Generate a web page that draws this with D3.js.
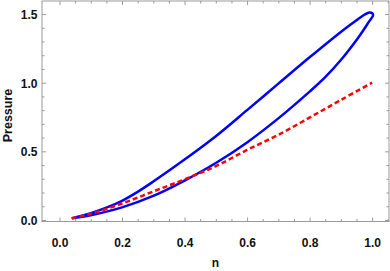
<!DOCTYPE html>
<html>
<head>
<meta charset="utf-8">
<script src="https://cdn.jsdelivr.net/npm/d3@7"></script>
<style>
  html, body { margin: 0; padding: 0; background: #fff; }
  svg { display: block; }
  text { font-family: "Liberation Sans", Arial, sans-serif; font-weight: bold; }
</style>
</head>
<body>
<div id="chart"></div>
<script>
// Blue loop: upper branch out to the tip, lower branch back to the start
const upperN = [0.039, 0.1, 0.15, 0.2, 0.25, 0.3, 0.4, 0.5, 0.6, 0.7, 0.8, 0.9, 0.95, 0.975, 0.992];
const upperP = [0.012, 0.05, 0.09, 0.14, 0.205, 0.28, 0.44, 0.61, 0.8, 0.993, 1.185, 1.37, 1.455, 1.495, 1.512];
const lowerN = [1.001, 1.003, 0.99, 0.97, 0.94, 0.9, 0.85, 0.8, 0.7, 0.6, 0.5, 0.4, 0.3, 0.2, 0.1, 0.039];
const lowerP = [1.505, 1.49, 1.445, 1.375, 1.28, 1.165, 1.04, 0.935, 0.74, 0.565, 0.415, 0.287, 0.175, 0.092, 0.035, 0.012];

// Red dashed curve
const redN = [0.039, 0.1, 0.2, 0.3, 0.4, 0.5, 0.6, 0.7, 0.8, 0.9, 1.0];
const redP = [0.012, 0.045, 0.12, 0.208, 0.296, 0.392, 0.51, 0.62, 0.746, 0.874, 1.0];

const xTicks = [0, 0.2, 0.4, 0.6, 0.8, 1.0];
const yTicks = [0, 0.5, 1.0, 1.5];

const width = 390, height = 271;
const mLeft = 42, mRight = 389, mTop = 1, mBottom = 221.5;

const svg = d3.select('#chart').append('svg')
  .attr('width', width)
  .attr('height', height);

const x = d3.scaleLinear().domain([-0.056, 1.054]).range([mLeft, mRight]);
const y = d3.scaleLinear().domain([-0.011, 1.595]).range([mBottom, mTop]);

// minor tick positions
const xMinor = d3.range(0, 1.051, 0.05).filter(v => !xTicks.some(t => Math.abs(t - v) < 1e-6));
const yMinor = d3.range(0, 1.59, 0.1).filter(v => !yTicks.some(t => Math.abs(t - v) < 1e-6));

const frameColor = '#9a9a9a';

function styleAxis(g) {
  g.select('.domain').remove();
  g.selectAll('.tick line').attr('stroke', frameColor);
}

// bottom
svg.append('g').attr('transform', `translate(0,${mBottom})`)
  .call(d3.axisBottom(x).tickValues(xMinor).tickSize(-2.5).tickFormat(''))
  .call(styleAxis);
const xb = svg.append('g').attr('transform', `translate(0,${mBottom})`)
  .call(d3.axisBottom(x).tickValues(xTicks).tickSize(-4).tickFormat(d3.format('.1f')))
  .call(styleAxis);
xb.selectAll('.tick text')
  .attr('y', 25.5).attr('dy', 0)
  .attr('font-size', 12).attr('font-family', null).attr('fill', '#111');

// top
svg.append('g').attr('transform', `translate(0,${mTop})`)
  .call(d3.axisTop(x).tickValues(xMinor).tickSize(-2.5).tickFormat(''))
  .call(styleAxis);
svg.append('g').attr('transform', `translate(0,${mTop})`)
  .call(d3.axisTop(x).tickValues(xTicks).tickSize(-4).tickFormat(''))
  .call(styleAxis);

// left
svg.append('g').attr('transform', `translate(${mLeft},0)`)
  .call(d3.axisLeft(y).tickValues(yMinor).tickSize(-2.5).tickFormat(''))
  .call(styleAxis);
const yl = svg.append('g').attr('transform', `translate(${mLeft},0)`)
  .call(d3.axisLeft(y).tickValues(yTicks).tickSize(-4).tickFormat(d3.format('.1f')))
  .call(styleAxis);
yl.selectAll('.tick text')
  .attr('x', -4.5).attr('dy', '0.36em')
  .attr('font-size', 12).attr('font-family', null).attr('fill', '#111');

// right
svg.append('g').attr('transform', `translate(${mRight},0)`)
  .call(d3.axisRight(y).tickValues(yMinor).tickSize(-2.5).tickFormat(''))
  .call(styleAxis);
svg.append('g').attr('transform', `translate(${mRight},0)`)
  .call(d3.axisRight(y).tickValues(yTicks).tickSize(-4).tickFormat(''))
  .call(styleAxis);

// frame
svg.append('rect')
  .attr('x', mLeft).attr('y', mTop)
  .attr('width', mRight - mLeft).attr('height', mBottom - mTop)
  .attr('fill', 'none')
  .attr('stroke', frameColor)
  .attr('stroke-width', 1);

const line = d3.line()
  .x(d => x(d[0]))
  .y(d => y(d[1]))
  .curve(d3.curveCatmullRom.alpha(0.5));

const loop = upperN.map((n, i) => [n, upperP[i]])
  .concat(lowerN.map((n, i) => [n, lowerP[i]]));

svg.append('path')
  .datum(loop)
  .attr('d', line)
  .attr('fill', 'none')
  .attr('stroke', '#0000ff')
  .attr('stroke-width', 2.5)
  .attr('stroke-linejoin', 'round');

svg.append('path')
  .datum(redN.map((n, i) => [n, redP[i]]))
  .attr('d', line)
  .attr('fill', 'none')
  .attr('stroke', '#ff0000')
  .attr('stroke-width', 2.5)
  .attr('stroke-dasharray', '5,3');

// axis labels
svg.append('text')
  .attr('x', (mLeft + mRight) / 2)
  .attr('y', 266.5)
  .attr('text-anchor', 'middle')
  .attr('font-size', 12)
  .attr('fill', '#111')
  .text('n');

svg.append('text')
  .attr('transform', 'translate(12,115.5) rotate(-90)')
  .attr('text-anchor', 'middle')
  .attr('font-size', 12.5)
  .attr('fill', '#111')
  .text('Pressure');
</script>
</body>
</html>
